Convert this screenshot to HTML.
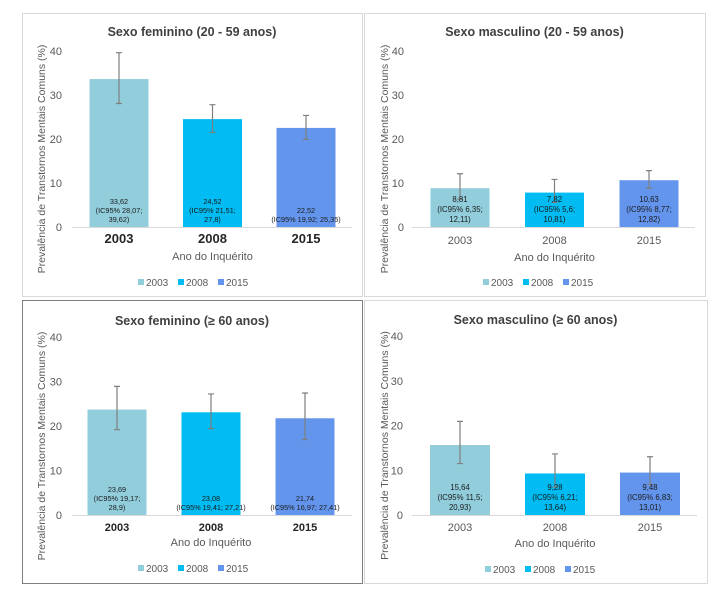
<!DOCTYPE html>
<html><head><meta charset="utf-8"><style>
body{margin:0;background:#fff;width:723px;height:604px;overflow:hidden;font-family:"Liberation Sans",sans-serif}
svg text{font-family:"Liberation Sans",sans-serif}
</style></head><body>
<svg id="c" width="723" height="604" xmlns="http://www.w3.org/2000/svg"></svg>
<script>
const categories=["2003","2008","2015"];
const colors=["#92CDDC","#00BCF2","#6495ED"];
const titles=["Sexo feminino (20 - 59 anos)","Sexo masculino (20 - 59 anos)","Sexo feminino (≥ 60 anos)","Sexo masculino (≥ 60 anos)"];
const values=[[33.62,24.52,22.52],[8.81,7.82,10.63],[23.69,23.08,21.74],[15.64,9.28,9.48]];
const lower=[[28.07,21.51,19.92],[6.35,5.6,8.77],[19.17,19.41,16.97],[11.5,6.21,6.83]];
const upper=[[39.62,27.8,25.35],[12.11,10.81,12.82],[28.9,27.21,27.41],[20.93,13.64,13.01]];
const labels=[
 [["33,62","(IC95% 28,07;","39,62)"],["24,52","(IC95% 21,51;","27,8)"],["22,52","(IC95% 19,92; 25,35)"]],
 [["8,81","(IC95% 6,35;","12,11)"],["7,82","(IC95% 5,6;","10,81)"],["10,63","(IC95% 8,77;","12,82)"]],
 [["23,69","(IC95% 19,17;","28,9)"],["23,08","(IC95% 19,41; 27,21)"],["21,74","(IC95% 16,97; 27,41)"]],
 [["15,64","(IC95% 11,5;","20,93)"],["9,28","(IC95% 6,21;","13,64)"],["9,48","(IC95% 6,83;","13,01)"]]];
const yTicks=[0,10,20,30,40];
const yMax=40;
const panels=[
 {bx:22,by:13,bw:340,bh:283,border:"#d9d9d9",top:51,bot:227,ax0:72,ax1:352,c0:119,step:93.5,bwid:59,tickX:62,ytX:45,title:32,cat:243,catSize:13,catBold:true,atitle:260,leg:286,legC:190,lsz:7.3,lsp:9},
 {bx:364,by:13,bw:341,bh:283,border:"#d9d9d9",top:51,bot:227,ax0:412,ax1:695,c0:460,step:94.5,bwid:59,tickX:404,ytX:388,title:32,cat:244,catSize:11,catBold:false,atitle:261,leg:286,legC:535,lsz:7.8,lsp:10},
 {bx:22,by:300,bw:340,bh:283,border:"#7f7f7f",top:337,bot:515,ax0:72,ax1:352,c0:117,step:94,bwid:59,tickX:62,ytX:45,title:321,cat:531,catSize:11,catBold:true,atitle:546,leg:572,legC:190,lsz:7.3,lsp:9},
 {bx:364,by:300,bw:343,bh:283,border:"#d9d9d9",top:336,bot:515,ax0:412,ax1:697,c0:460,step:95,bwid:60,tickX:403,ytX:388,title:320,cat:531,catSize:11,catBold:false,atitle:547,leg:573,legC:537,lsz:7.8,lsp:10}];
const svg=document.getElementById('c');
const NS="http://www.w3.org/2000/svg";
function mk(tag,attrs,parent,text){const e=document.createElementNS(NS,tag);for(const k in attrs)e.setAttribute(k,attrs[k]);if(text!==undefined)e.textContent=text;parent.appendChild(e);return e;}
panels.forEach((p,pi)=>{
 const g=mk('g',{},svg);
 
 
 const y=v=>p.bot-(v/yMax)*(p.bot-p.top);
 const x=i=>p.c0+i*p.step;
 const fr=mk('rect',{x:p.bx+0.5,y:p.by+0.5,width:p.bw,height:p.bh,fill:'#fff',stroke:p.border,'stroke-width':1},g);
 
 
 const t=mk('text',{x:p.bx+p.bw/2,y:p.title+4,'text-anchor':'middle','font-size':12.5,'font-weight':'bold',fill:'#404040'},g,titles[pi]);
 
 
 yTicks.forEach(v=>{
  const tl=mk('text',{x:p.tickX,y:y(v)+4,'text-anchor':'end','font-size':11,fill:'#595959'},g,String(v));
  
  
 });
 const ax=mk('line',{x1:p.ax0,x2:p.ax1,y1:p.bot+0.5,y2:p.bot+0.5,stroke:'#d9d9d9'},g);
 
 
 const yt=mk('text',{transform:`translate(${p.ytX},${(p.top+p.bot)/2+20}) rotate(-90)`,'text-anchor':'middle','font-size':10.5,fill:'#595959'},g,'Prevalência de Transtornos Mentais Comuns (%)');
 
 
 categories.forEach((c,i)=>{
  const cx=x(i),v=values[pi][i];
  const b=mk('rect',{x:cx-p.bwid/2,y:y(v),width:p.bwid,height:p.bot-y(v),fill:colors[i]},g);
  
  
  const e=mk('path',{d:`M${cx},${y(upper[pi][i])}V${y(lower[pi][i])}M${cx-3},${y(upper[pi][i])}h6M${cx-3},${y(lower[pi][i])}h6`,stroke:'#7f7f7f','stroke-width':1.2,fill:'none'},g);
  
  
  const L=labels[pi][i];
  L.forEach((s,k)=>{
   const lt=mk('text',{x:cx,y:p.bot-5-(L.length-1-k)*p.lsp,'text-anchor':'middle','font-size':p.lsz,fill:'#1a1a1a'},g,s);
   
   
  });
  const cl=mk('text',{x:cx,y:p.cat,'text-anchor':'middle','font-size':p.catSize,'font-weight':p.catBold?'bold':'normal',fill:p.catBold?'#262626':'#595959'},g,c);
  
  
 });
 const at=mk('text',{x:p.c0+p.step,y:p.atitle,'text-anchor':'middle','font-size':11,fill:'#595959'},g,'Ano do Inquérito');
 
 
 categories.forEach((c,i)=>{
  const lx=p.legC-52+i*40;
  const lg=mk('g',{},g);
  
  
  mk('rect',{x:lx,y:p.leg-7,width:6,height:6,fill:colors[i]},lg);
  mk('text',{x:lx+8,y:p.leg,'font-size':10,fill:'#595959'},lg,c);
 });
});
</script>
</body></html>
